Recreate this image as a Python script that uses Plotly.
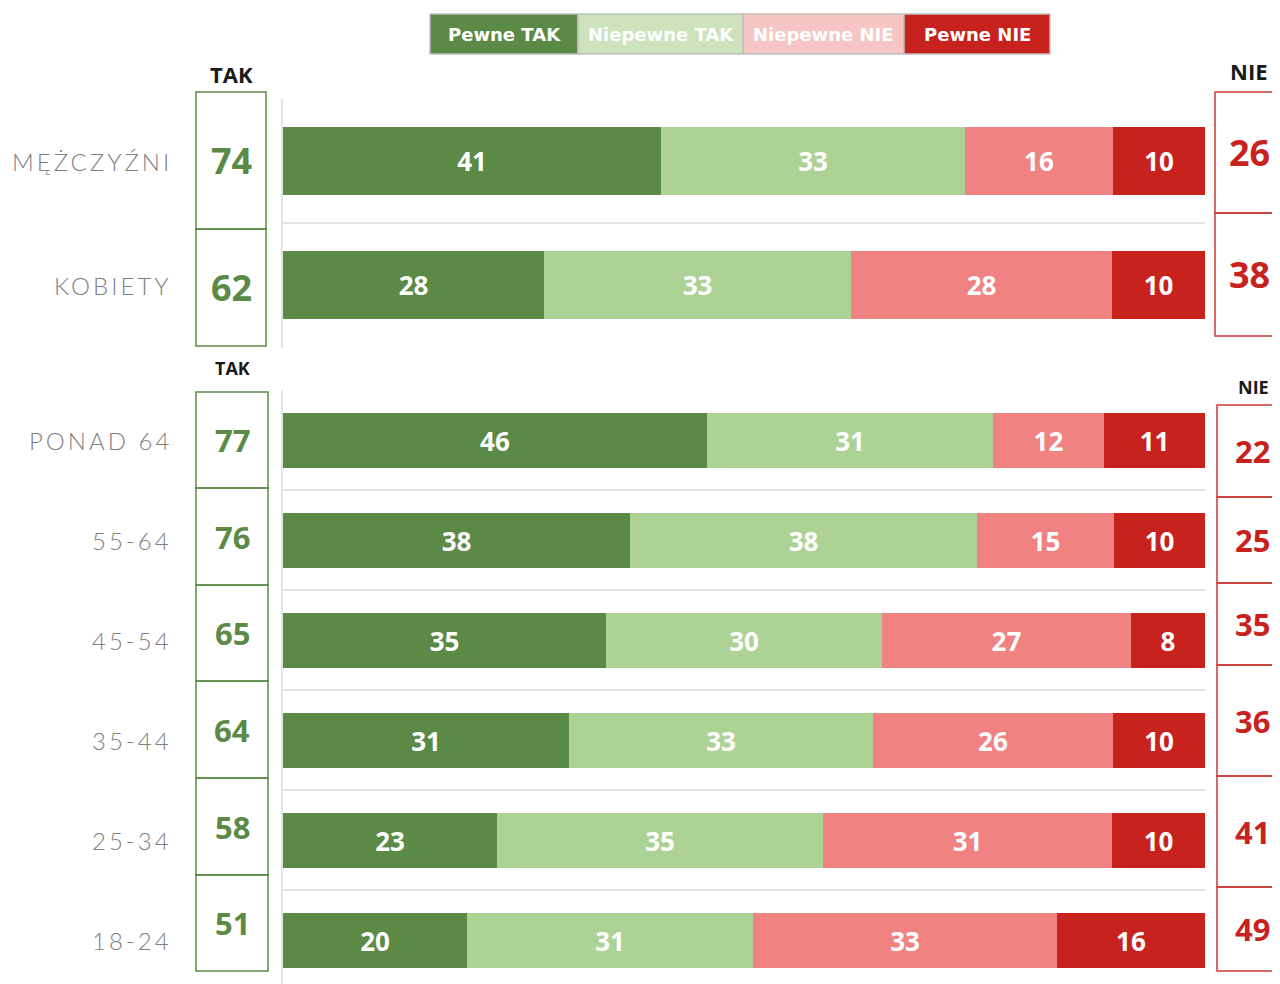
import plotly.graph_objects as go

# ---------------- data ----------------
series_names = ["Pewne TAK", "Niepewne TAK", "Niepewne NIE", "Pewne NIE"]

gender_labels = ["MĘŻCZYŹNI", "KOBIETY"]
gender_pewne_tak = [41, 28]
gender_niepewne_tak = [33, 33]
gender_niepewne_nie = [16, 28]
gender_pewne_nie = [10, 10]
gender_tak_total = [74, 62]
gender_nie_total = [26, 38]

age_labels = ["PONAD 64", "55-64", "45-54", "35-44", "25-34", "18-24"]
age_pewne_tak = [46, 38, 35, 31, 23, 20]
age_niepewne_tak = [31, 38, 30, 33, 35, 31]
age_niepewne_nie = [12, 15, 27, 26, 31, 33]
age_pewne_nie = [11, 10, 8, 10, 10, 16]
age_tak_total = [77, 76, 65, 64, 58, 51]
age_nie_total = [22, 25, 35, 36, 41, 49]

# ---------------- styles ----------------
bar_colors = ["#5a8a45", "#add295", "#f08282", "#c8221e"]
legend_colors = ["#5a8a45", "#cce3bd", "#f6c6c5", "#c8221e"]
GREEN = "#5a8a45"
RED = "#c8221e"
BOXRED = "#cc3a36"
GRID = "#e4e4e4"
OFF = 8  # page body margin
W, H = 1280 - OFF, 984 - OFF
# plot area in screen pixels
SL, SR, ST, SB = 283, 1205, 99, 984


def px_x(p):
    return (p - SL) / (SR - SL)


def px_y(p):
    return (SB - p) / (SB - ST)


fig = go.Figure()


def add_group(values_lists, labels, xa, ya):
    n = len(labels)
    sums = [sum(v[i] for v in values_lists) for i in range(n)]
    for k, vals in enumerate(values_lists):
        fig.add_trace(go.Bar(
            orientation="h",
            y=list(range(n)),
            x=[vals[i] * 100.0 / sums[i] for i in range(n)],
            text=[str(v) for v in vals],
            texttemplate="%{text}",
            textposition="inside",
            insidetextanchor="middle",
            constraintext="none",
            textangle=0,
            textfont=dict(color="white", size=26, family="Open Sans", weight="bold"),
            marker=dict(color=bar_colors[k], line=dict(width=0)),
            width=0.55,
            name=series_names[k],
            showlegend=False,
            hoverinfo="skip",
            xaxis=xa, yaxis=ya,
        ))
    return n


n1 = add_group([gender_pewne_tak, gender_niepewne_tak, gender_niepewne_nie, gender_pewne_nie],
               gender_labels, "x", "y")
n2 = add_group([age_pewne_tak, age_niepewne_tak, age_niepewne_nie, age_pewne_nie],
               age_labels, "x2", "y2")

top_dom = [px_y(347.5), 1.0]
bot_dom = [0.0, px_y(390)]
bot_range_end = -0.5 + (SB - 390) / 100.0

axis_x = dict(range=[0, 100], showgrid=False, zeroline=False, showticklabels=False,
              ticks="", showline=False, fixedrange=True)
fig.update_layout(
    width=W, height=H,
    margin=dict(l=SL - OFF, r=1280 - SR, t=ST - OFF, b=0),
    paper_bgcolor="white", plot_bgcolor="white",
    barmode="stack", bargap=0,
    xaxis=dict(axis_x, domain=[0, 1], anchor="y"),
    xaxis2=dict(axis_x, domain=[0, 1], anchor="y2"),
    yaxis=dict(domain=top_dom, range=[n1 - 0.5 + 0.005, -0.5 - 0.005], anchor="x",
               tickvals=[i - 0.5 for i in range(n1 + 1)], showticklabels=False, ticks="",
               showgrid=True, gridcolor=GRID, gridwidth=2, zeroline=False,
               showline=True, linecolor=GRID, linewidth=2),
    yaxis2=dict(domain=bot_dom, range=[bot_range_end, -0.5 - 0.005], anchor="x2",
                tickvals=[i - 0.5 for i in range(n2 + 1)], showticklabels=False, ticks="",
                showgrid=True, gridcolor=GRID, gridwidth=2, zeroline=False,
                showline=True, linecolor=GRID, linewidth=2),
    showlegend=False,
)

shapes = []
annots = []

# ---- legend (custom boxes) ----
leg_edges = [430, 578, 743, 904, 1050]
for k, name in enumerate(series_names):
    shapes.append(dict(type="rect", xref="paper", yref="paper",
                       x0=px_x(leg_edges[k]), x1=px_x(leg_edges[k + 1]),
                       y0=px_y(54), y1=px_y(14),
                       fillcolor=legend_colors[k], line=dict(color="#c0c0c0", width=1.5),
                       layer="above"))
    annots.append(dict(xref="paper", yref="paper",
                       x=px_x((leg_edges[k] + leg_edges[k + 1]) / 2), y=px_y(35),
                       text=name, showarrow=False, xanchor="center", yanchor="middle",
                       font=dict(color="white", size=18, family="DejaVu Sans", weight="bold")))


# ---- category labels ----
def cat_label(txt, yv, yref):
    annots.append(dict(xref="paper", yref=yref, x=px_x(174), y=yv,
                       text='<span style="letter-spacing:3px">' + txt + '</span>',
                       showarrow=False, xanchor="right", yanchor="middle",
                       font=dict(color="#808080", size=24, family="Lato", weight=300)))


for i, t in enumerate(gender_labels):
    cat_label(t, i, "y")
for i, t in enumerate(age_labels):
    cat_label(t, i, "y2")


# ---- TAK / NIE total boxes ----
def boxes(edges, vals, x0, x1, line_color, txt_color, size, txt_x):
    for i, v in enumerate(vals):
        shapes.append(dict(type="rect", xref="paper", yref="paper",
                           x0=px_x(x0), x1=px_x(x1), y0=px_y(edges[i + 1]), y1=px_y(edges[i]),
                           line=dict(color=line_color, width=1.5), fillcolor="rgba(0,0,0,0)"))
        annots.append(dict(xref="paper", yref="paper", x=px_x(txt_x),
                           y=px_y((edges[i] + edges[i + 1]) / 2),
                           text=str(v), showarrow=False, xanchor="center", yanchor="middle",
                           font=dict(color=txt_color, size=size, family="Open Sans", weight="bold")))


boxes([92, 229, 346], gender_tak_total, 196, 266, GREEN, GREEN, 36, 231)
boxes([92, 213, 336], gender_nie_total, 1215, 1300, BOXRED, RED, 36, 1249)
boxes([392, 488, 585, 681, 778, 875, 971], age_tak_total, 196, 268, GREEN, GREEN, 31, 232)
boxes([405, 497, 583, 665, 776, 887, 971], age_nie_total, 1217, 1300, BOXRED, RED, 31, 1252)

# ---- headers ----
for txt, x, y, s in [("TAK", 231, 74, 22), ("NIE", 1249, 71, 22),
                     ("TAK", 232, 368, 18), ("NIE", 1253, 387, 18)]:
    annots.append(dict(xref="paper", yref="paper", x=px_x(x), y=px_y(y), text=txt,
                       showarrow=False, xanchor="center", yanchor="middle",
                       font=dict(color="#1a1a1a", size=s, family="Open Sans", weight="bold")))

fig.update_layout(shapes=shapes, annotations=annots)
fig.write_html("out.html")
